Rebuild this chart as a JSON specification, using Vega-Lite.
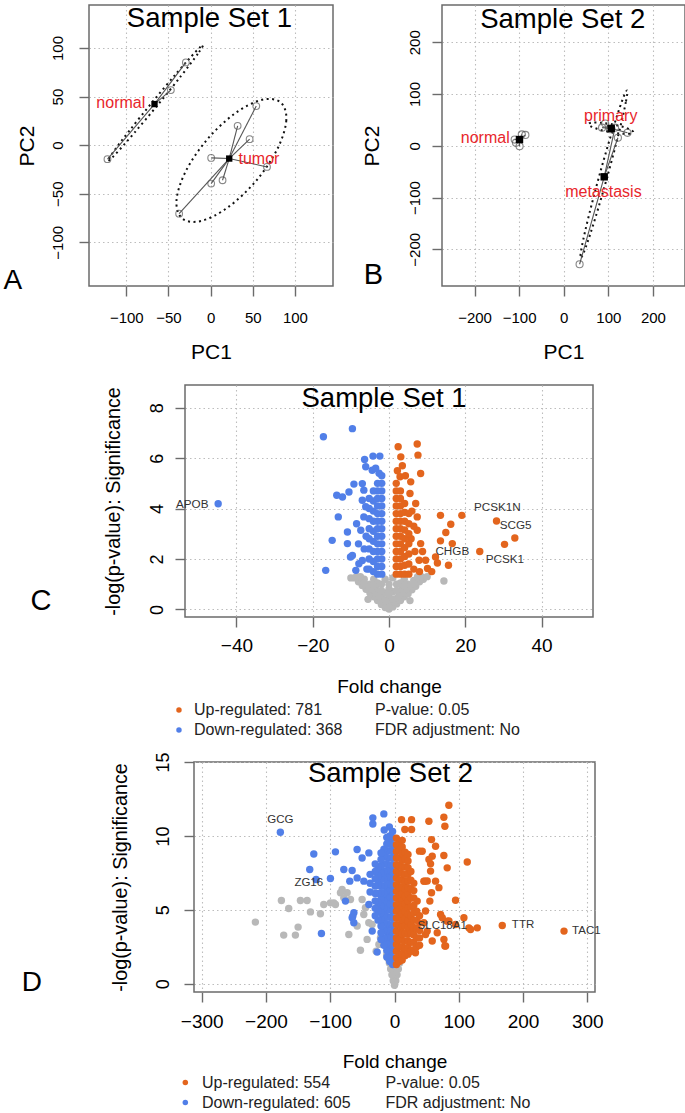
{
"$schema":"https://vega.github.io/schema/vega-lite/v6.json",
"background":"white",
"padding":{"left":2,"top":3,"right":0,"bottom":0},
"config":{
 "font":"Liberation Sans",
 "view":{"stroke":null},
 "axis":{"tickSize":10,"tickColor":"#6b6b6b","tickWidth":1.4,"domain":false,"grid":true,"gridColor":"#bdbdbd","gridDash":[1.5,3],"gridWidth":1.1,"labelColor":"#000","titleColor":"#000","titleFontWeight":"normal","labelOverlap":false,"labelFlush":false,"labelFont":"Liberation Sans","titleFont":"Liberation Sans"},
 "text":{"font":"Liberation Sans"}
},
"datasets":{
 "pcaA":[
  {"grp":"normal","x":-122.3,"y":-14.4,"cx":-66.5,"cy":42.3},
  {"grp":"normal","x":-47.1,"y":56.7,"cx":-66.5,"cy":42.3},
  {"grp":"normal","x":-29.3,"y":85.2,"cx":-66.5,"cy":42.3},
  {"grp":"tumor","x":54.2,"y":40.2,"cx":22.1,"cy":-13.8},
  {"grp":"tumor","x":32.1,"y":19.9,"cx":22.1,"cy":-13.8},
  {"grp":"tumor","x":46.3,"y":6.2,"cx":22.1,"cy":-13.8},
  {"grp":"tumor","x":0.7,"y":-13.1,"cx":22.1,"cy":-13.8},
  {"grp":"tumor","x":66.9,"y":-22.4,"cx":22.1,"cy":-13.8},
  {"grp":"tumor","x":0.7,"y":-39.6,"cx":22.1,"cy":-13.8},
  {"grp":"tumor","x":14.2,"y":-36.1,"cx":22.1,"cy":-13.8},
  {"grp":"tumor","x":-37.3,"y":-70.5,"cx":22.1,"cy":-13.8}
 ],
 "cenA":[{"x":-66.5,"y":42.3},{"x":22.1,"y":-13.8}],
 "labA":[{"x":-106.5,"y":43.6,"label":"normal"},{"x":57.4,"y":-14.1,"label":"tumor"}],
 "ellA":[
  {"grp":"normal","i":0,"x":-9,"y":103},{"grp":"normal","i":1,"x":-15.2,"y":94},{"grp":"normal","i":2,"x":-34.9,"y":71.4},{"grp":"normal","i":3,"x":-62.75,"y":41.3},{"grp":"normal","i":4,"x":-91.4,"y":11.7},{"grp":"normal","i":5,"x":-113.1,"y":-9.5},{"grp":"normal","i":6,"x":-122,"y":-16.5},{"grp":"normal","i":7,"x":-115.8,"y":-7.5},{"grp":"normal","i":8,"x":-96.1,"y":15.1},{"grp":"normal","i":9,"x":-68.25,"y":45.2},{"grp":"normal","i":10,"x":-39.6,"y":74.8},{"grp":"normal","i":11,"x":-17.9,"y":96},
  {"grp":"tumor","i":0,"x":83.1,"y":44},{"grp":"tumor","i":1,"x":89.8,"y":25.4},{"grp":"tumor","i":2,"x":79,"y":-4.3},{"grp":"tumor","i":3,"x":53.7,"y":-37},{"grp":"tumor","i":4,"x":20.6,"y":-64},{"grp":"tumor","i":5,"x":-11.4,"y":-78.1},{"grp":"tumor","i":6,"x":-33.7,"y":-75.4},{"grp":"tumor","i":7,"x":-40.4,"y":-56.8},{"grp":"tumor","i":8,"x":-29.6,"y":-27.1},{"grp":"tumor","i":9,"x":-4.3,"y":5.6},{"grp":"tumor","i":10,"x":28.8,"y":32.6},{"grp":"tumor","i":11,"x":60.8,"y":46.7}
 ],
 "pcaB":[
  {"grp":"normal","x":-110,"y":12,"cx":-99.2,"cy":12},
  {"grp":"normal","x":-99,"y":-1,"cx":-99.2,"cy":12},
  {"grp":"normal","x":-86,"y":21,"cx":-99.2,"cy":12},
  {"grp":"normal","x":-94,"y":22,"cx":-99.2,"cy":12},
  {"grp":"normal","x":-107,"y":6,"cx":-99.2,"cy":12},
  {"grp":"primary","x":86,"y":35,"cx":106.5,"cy":33.5},
  {"grp":"primary","x":93,"y":43,"cx":106.5,"cy":33.5},
  {"grp":"primary","x":143,"y":25,"cx":106.5,"cy":33.5},
  {"grp":"primary","x":104,"y":32,"cx":106.5,"cy":33.5},
  {"grp":"metastasis","x":35.6,"y":-229,"cx":90.8,"cy":-60},
  {"grp":"metastasis","x":121.5,"y":15.5,"cx":90.8,"cy":-60},
  {"grp":"metastasis","x":115,"y":35,"cx":90.8,"cy":-60}
 ],
 "cenB":[{"x":-99.2,"y":12},{"x":106.5,"y":33.5},{"x":90.8,"y":-60}],
 "labB":[{"x":-176,"y":14.1,"label":"normal"},{"x":105.4,"y":58,"label":"primary"},{"x":89,"y":-90,"label":"metastasis"}],
 "ellB":[
  {"grp":"primary","i":0,"x":156,"y":26},{"grp":"primary","i":1,"x":148.5,"y":23.3},{"grp":"primary","i":2,"x":129.6,"y":23.4},{"grp":"primary","i":3,"x":104.4,"y":26.4},{"grp":"primary","i":4,"x":79.6,"y":31.4},{"grp":"primary","i":5,"x":61.9,"y":37.1},{"grp":"primary","i":6,"x":56,"y":42},{"grp":"primary","i":7,"x":63.5,"y":44.7},{"grp":"primary","i":8,"x":82.4,"y":44.6},{"grp":"primary","i":9,"x":107.6,"y":41.6},{"grp":"primary","i":10,"x":132.4,"y":36.6},{"grp":"primary","i":11,"x":150.1,"y":30.9},
  {"grp":"metastasis","i":0,"x":142,"y":107},{"grp":"metastasis","i":1,"x":139.3,"y":84.3},{"grp":"metastasis","i":2,"x":123.5,"y":24.2},{"grp":"metastasis","i":3,"x":98.6,"y":-57.1},{"grp":"metastasis","i":4,"x":71.5,"y":-137.8},{"grp":"metastasis","i":5,"x":49.3,"y":-196.3},{"grp":"metastasis","i":6,"x":38,"y":-217},{"grp":"metastasis","i":7,"x":40.7,"y":-194.3},{"grp":"metastasis","i":8,"x":56.6,"y":-134.2},{"grp":"metastasis","i":9,"x":81.4,"y":-52.9},{"grp":"metastasis","i":10,"x":108.6,"y":27.8},{"grp":"metastasis","i":11,"x":130.7,"y":86.3}
 ],
 "genC":[{"x":-51.6,"y":4.2,"label":"APOB"},{"x":28.4,"y":4.07,"label":"PCSK1N"},{"x":33.2,"y":3.34,"label":"SCG5"},{"x":16.6,"y":2.32,"label":"CHGB"},{"x":30.4,"y":2.01,"label":"PCSK1"}],
 "genD":[{"x":-177.6,"y":11.1,"label":"GCG"},{"x":-133.4,"y":6.82,"label":"ZG16"},{"x":74.2,"y":3.9,"label":"SLC18A1"},{"x":200,"y":4.0,"label":"TTR"},{"x":298.5,"y":3.6,"label":"TAC1"}],
 "volC":[
  {"x":0,"y":0.02,"g":"n"},{"x":-1,"y":0.08,"g":"n"},{"x":1,"y":0.1,"g":"n"},{"x":-2,"y":0.2,"g":"n"},{"x":2,"y":0.22,"g":"n"},{"x":0,"y":0.25,"g":"n"},{"x":-3,"y":0.35,"g":"n"},{"x":3,"y":0.35,"g":"n"},{"x":-1.5,"y":0.4,"g":"n"},{"x":1.5,"y":0.42,"g":"n"},{"x":-4,"y":0.5,"g":"n"},{"x":4,"y":0.5,"g":"n"},{"x":0,"y":0.5,"g":"n"},{"x":-5,"y":0.65,"g":"n"},{"x":5,"y":0.62,"g":"n"},{"x":-2.5,"y":0.65,"g":"n"},{"x":2.5,"y":0.7,"g":"n"},{"x":-6,"y":0.8,"g":"n"},{"x":6,"y":0.78,"g":"n"},{"x":-3.5,"y":0.85,"g":"n"},{"x":3.5,"y":0.85,"g":"n"},{"x":0,"y":0.8,"g":"n"},{"x":-7,"y":0.95,"g":"n"},{"x":7,"y":0.92,"g":"n"},{"x":-5,"y":1.0,"g":"n"},{"x":5,"y":1.0,"g":"n"},{"x":-8,"y":1.1,"g":"n"},{"x":8,"y":1.1,"g":"n"},{"x":-6.5,"y":1.2,"g":"n"},{"x":6.5,"y":1.15,"g":"n"},{"x":-7.5,"y":1.3,"g":"n"},{"x":7.5,"y":1.3,"g":"n"},{"x":-4,"y":1.2,"g":"n"},{"x":4,"y":1.2,"g":"n"},{"x":-9,"y":1.25,"g":"n"},{"x":9,"y":1.2,"g":"n"},{"x":14.4,"y":1.13,"g":"n"},{"x":-2,"y":1.0,"g":"n"},{"x":2,"y":1.0,"g":"n"},{"x":-1,"y":0.65,"g":"n"},{"x":1,"y":0.7,"g":"n"},{"x":-1,"y":1.2,"g":"n"},{"x":1,"y":1.25,"g":"n"},{"x":-5.5,"y":0.4,"g":"n"},{"x":5.5,"y":0.35,"g":"n"},{"x":-3,"y":1.05,"g":"n"},{"x":3,"y":1.05,"g":"n"},
  {"x":-0.5,"y":0.15,"g":"n"},{"x":0.5,"y":0.15,"g":"n"},{"x":-1.5,"y":0.3,"g":"n"},{"x":1.5,"y":0.3,"g":"n"},{"x":-2.5,"y":0.5,"g":"n"},{"x":2.5,"y":0.5,"g":"n"},{"x":-3.5,"y":0.65,"g":"n"},{"x":3.5,"y":0.65,"g":"n"},{"x":-4.5,"y":0.8,"g":"n"},{"x":4.5,"y":0.8,"g":"n"},{"x":-5.5,"y":0.95,"g":"n"},{"x":5.5,"y":0.95,"g":"n"},{"x":-6.5,"y":1.05,"g":"n"},{"x":6.5,"y":1.0,"g":"n"},{"x":-2,"y":0.75,"g":"n"},{"x":2,"y":0.75,"g":"n"},{"x":0,"y":1.0,"g":"n"},{"x":-4,"y":0.95,"g":"n"},{"x":4,"y":0.95,"g":"n"},{"x":-8.5,"y":1.3,"g":"n"},{"x":8.5,"y":1.3,"g":"n"},{"x":-10,"y":1.25,"g":"n"},{"x":10,"y":1.3,"g":"n"},{"x":-1,"y":0.35,"g":"n"},{"x":1,"y":0.4,"g":"n"},{"x":0,"y":0.65,"g":"n"},
  {"x":-44.8,"y":4.19,"g":"d"},{"x":-17.2,"y":6.85,"g":"d"},{"x":-9.6,"y":7.17,"g":"d"},{"x":-6.4,"y":5.95,"g":"d"},{"x":-4.2,"y":6.08,"g":"d"},{"x":-2.4,"y":6.08,"g":"d"},{"x":-6.1,"y":5.66,"g":"d"},{"x":-4.4,"y":5.52,"g":"d"},{"x":-9.2,"y":4.97,"g":"d"},{"x":-10.5,"y":4.66,"g":"d"},{"x":-13.7,"y":4.53,"g":"d"},{"x":-12.2,"y":4.46,"g":"d"},{"x":-13.3,"y":3.67,"g":"d"},{"x":-14.9,"y":2.74,"g":"d"},{"x":-16.6,"y":1.55,"g":"d"},{"x":-10.9,"y":3.07,"g":"d"},{"x":-10.9,"y":2.61,"g":"d"},{"x":-10.1,"y":2.08,"g":"d"},{"x":-9.6,"y":2.14,"g":"d"},{"x":-7.4,"y":3.14,"g":"d"},{"x":-7.0,"y":1.94,"g":"d"},{"x":-8.7,"y":1.55,"g":"d"},{"x":-7.9,"y":1.81,"g":"d"},{"x":-7.0,"y":4.99,"g":"d"},{"x":-6.6,"y":4.73,"g":"d"},{"x":-7.0,"y":4.33,"g":"d"},{"x":-6.1,"y":4.07,"g":"d"},{"x":-6.6,"y":3.67,"g":"d"},{"x":-8.5,"y":3.4,"g":"d"},{"x":-6.0,"y":2.9,"g":"d"},{"x":-6.5,"y":2.4,"g":"d"},{"x":-5.8,"y":1.6,"g":"d"},{"x":-8.0,"y":2.6,"g":"d"},{"x":-2.6,"y":5.4,"g":"d"},{"x":-3.5,"y":5.6,"g":"d"},
  {"x":-1.9,"y":1.4,"g":"d"},{"x":-1.9,"y":1.7,"g":"d"},{"x":-1.9,"y":2.0,"g":"d"},{"x":-1.9,"y":2.3,"g":"d"},{"x":-1.9,"y":2.6,"g":"d"},{"x":-1.9,"y":2.9,"g":"d"},{"x":-1.9,"y":3.2,"g":"d"},{"x":-1.9,"y":3.5,"g":"d"},{"x":-1.9,"y":3.8,"g":"d"},{"x":-1.9,"y":4.1,"g":"d"},{"x":-1.9,"y":4.4,"g":"d"},{"x":-1.9,"y":4.7,"g":"d"},{"x":-1.9,"y":5.0,"g":"d"},{"x":-1.9,"y":5.3,"g":"d"},
  {"x":-3.0,"y":1.4,"g":"d"},{"x":-3.0,"y":1.7,"g":"d"},{"x":-3.0,"y":2.0,"g":"d"},{"x":-3.0,"y":2.3,"g":"d"},{"x":-3.0,"y":2.6,"g":"d"},{"x":-3.0,"y":2.9,"g":"d"},{"x":-3.0,"y":3.2,"g":"d"},{"x":-3.0,"y":3.5,"g":"d"},{"x":-3.0,"y":3.8,"g":"d"},{"x":-3.0,"y":4.1,"g":"d"},{"x":-3.0,"y":4.4,"g":"d"},{"x":-3.0,"y":4.7,"g":"d"},{"x":-3.0,"y":5.0,"g":"d"},
  {"x":-4.1,"y":1.5,"g":"d"},{"x":-4.1,"y":1.9,"g":"d"},{"x":-4.1,"y":2.3,"g":"d"},{"x":-4.1,"y":2.7,"g":"d"},{"x":-4.1,"y":3.1,"g":"d"},{"x":-4.1,"y":3.5,"g":"d"},{"x":-4.1,"y":3.9,"g":"d"},{"x":-4.1,"y":4.3,"g":"d"},{"x":-4.1,"y":4.7,"g":"d"},
  {"x":-5.2,"y":1.6,"g":"d"},{"x":-5.2,"y":2.0,"g":"d"},{"x":-5.2,"y":2.4,"g":"d"},{"x":-5.2,"y":2.8,"g":"d"},{"x":-5.2,"y":3.2,"g":"d"},{"x":-5.2,"y":3.6,"g":"d"},{"x":-5.2,"y":4.0,"g":"d"},{"x":-5.2,"y":4.4,"g":"d"},
  {"x":2.4,"y":6.45,"g":"u"},{"x":7.4,"y":6.56,"g":"u"},{"x":7.6,"y":6.12,"g":"u"},{"x":3.1,"y":6.05,"g":"u"},{"x":2.9,"y":5.26,"g":"u"},{"x":5.7,"y":5.06,"g":"u"},{"x":8.3,"y":5.39,"g":"u"},{"x":7.4,"y":3.67,"g":"u"},{"x":7.0,"y":4.2,"g":"u"},{"x":7.4,"y":3.14,"g":"u"},{"x":8.3,"y":2.61,"g":"u"},{"x":7.9,"y":1.95,"g":"u"},{"x":9.6,"y":1.95,"g":"u"},{"x":10.1,"y":1.62,"g":"u"},{"x":13.5,"y":3.73,"g":"u"},{"x":19.1,"y":3.73,"g":"u"},{"x":16.2,"y":3.38,"g":"u"},{"x":14.9,"y":3.05,"g":"u"},{"x":13.5,"y":2.72,"g":"u"},{"x":16.6,"y":2.61,"g":"u"},{"x":12.2,"y":2.08,"g":"u"},{"x":12.7,"y":1.84,"g":"u"},{"x":15.6,"y":1.75,"g":"u"},{"x":28.2,"y":3.51,"g":"u"},{"x":33.0,"y":2.83,"g":"u"},{"x":30.3,"y":2.58,"g":"u"},{"x":23.8,"y":2.30,"g":"u"},{"x":5.5,"y":4.6,"g":"u"},{"x":6.0,"y":3.9,"g":"u"},{"x":6.5,"y":3.3,"g":"u"},{"x":5.8,"y":2.8,"g":"u"},{"x":6.8,"y":2.3,"g":"u"},{"x":8.8,"y":2.3,"g":"u"},{"x":6.5,"y":1.6,"g":"u"},{"x":8.0,"y":1.5,"g":"u"},{"x":11.2,"y":1.5,"g":"u"},{"x":2.2,"y":5.5,"g":"u"},{"x":3.5,"y":5.7,"g":"u"},{"x":4.3,"y":5.3,"g":"u"},
  {"x":1.9,"y":1.4,"g":"u"},{"x":1.9,"y":1.7,"g":"u"},{"x":1.9,"y":2.0,"g":"u"},{"x":1.9,"y":2.3,"g":"u"},{"x":1.9,"y":2.6,"g":"u"},{"x":1.9,"y":2.9,"g":"u"},{"x":1.9,"y":3.2,"g":"u"},{"x":1.9,"y":3.5,"g":"u"},{"x":1.9,"y":3.8,"g":"u"},{"x":1.9,"y":4.1,"g":"u"},{"x":1.9,"y":4.4,"g":"u"},{"x":1.9,"y":4.7,"g":"u"},{"x":1.9,"y":5.0,"g":"u"},
  {"x":3.0,"y":1.4,"g":"u"},{"x":3.0,"y":1.7,"g":"u"},{"x":3.0,"y":2.0,"g":"u"},{"x":3.0,"y":2.3,"g":"u"},{"x":3.0,"y":2.6,"g":"u"},{"x":3.0,"y":2.9,"g":"u"},{"x":3.0,"y":3.2,"g":"u"},{"x":3.0,"y":3.5,"g":"u"},{"x":3.0,"y":3.8,"g":"u"},{"x":3.0,"y":4.1,"g":"u"},{"x":3.0,"y":4.4,"g":"u"},{"x":3.0,"y":4.7,"g":"u"},
  {"x":4.1,"y":1.4,"g":"u"},{"x":4.1,"y":1.75,"g":"u"},{"x":4.1,"y":2.1,"g":"u"},{"x":4.1,"y":2.45,"g":"u"},{"x":4.1,"y":2.8,"g":"u"},{"x":4.1,"y":3.15,"g":"u"},{"x":4.1,"y":3.5,"g":"u"},{"x":4.1,"y":3.85,"g":"u"},{"x":4.1,"y":4.2,"g":"u"},
  {"x":5.2,"y":1.4,"g":"u"},{"x":5.2,"y":1.8,"g":"u"},{"x":5.2,"y":2.2,"g":"u"},{"x":5.2,"y":2.6,"g":"u"},{"x":5.2,"y":3.0,"g":"u"},{"x":5.2,"y":3.4,"g":"u"},{"x":5.2,"y":3.8,"g":"u"}
 ],
 "volD":[
  {"x":0,"y":-0.1,"g":"n"},{"x":-2,"y":0.2,"g":"n"},{"x":2,"y":0.2,"g":"n"},{"x":0,"y":0.4,"g":"n"},{"x":-4,"y":0.6,"g":"n"},{"x":4,"y":0.6,"g":"n"},{"x":-1,"y":0.8,"g":"n"},{"x":1,"y":0.8,"g":"n"},{"x":-6,"y":1.0,"g":"n"},{"x":6,"y":1.0,"g":"n"},{"x":-3,"y":1.2,"g":"n"},{"x":3,"y":1.2,"g":"n"},{"x":-8,"y":1.4,"g":"n"},{"x":8,"y":1.4,"g":"n"},{"x":-10,"y":1.7,"g":"n"},{"x":10,"y":1.7,"g":"n"},{"x":0,"y":1.2,"g":"n"},{"x":-12,"y":2.0,"g":"n"},{"x":12,"y":2.0,"g":"n"},
  {"x":-216.5,"y":4.17,"g":"n"},{"x":-176,"y":5.63,"g":"n"},{"x":-164.6,"y":5.09,"g":"n"},{"x":-172.4,"y":3.29,"g":"n"},{"x":-154.2,"y":3.29,"g":"n"},{"x":-150,"y":3.83,"g":"n"},{"x":-146.4,"y":5.63,"g":"n"},{"x":-136,"y":5.63,"g":"n"},{"x":-130.8,"y":4.86,"g":"n"},{"x":-115.3,"y":4.73,"g":"n"},{"x":-110.1,"y":5.36,"g":"n"},{"x":-99.7,"y":5.47,"g":"n"},{"x":-91.9,"y":5.36,"g":"n"},{"x":-84.1,"y":6.15,"g":"n"},{"x":-73.7,"y":6.15,"g":"n"},{"x":-78.9,"y":5.81,"g":"n"},{"x":-50.4,"y":5.7,"g":"n"},{"x":-45.2,"y":5.14,"g":"n"},{"x":-47.8,"y":4.68,"g":"n"},{"x":-34.8,"y":4.01,"g":"n"},{"x":-40,"y":4.12,"g":"n"},{"x":-71.1,"y":3.33,"g":"n"},{"x":-53,"y":2.27,"g":"n"},{"x":-42.6,"y":3.0,"g":"n"},{"x":-81.5,"y":6.38,"g":"n"},{"x":-68.5,"y":5.7,"g":"n"},{"x":-58.1,"y":3.9,"g":"n"},{"x":-24.3,"y":2.66,"g":"n"},{"x":-21.8,"y":3.11,"g":"n"},{"x":-28.5,"y":2.2,"g":"n"},{"x":-94.4,"y":5.47,"g":"n"},
  {"x":-177.6,"y":10.25,"g":"d"},{"x":-125.6,"y":8.78,"g":"d"},{"x":-91.9,"y":8.92,"g":"d"},{"x":-131.9,"y":7.73,"g":"d"},{"x":-99.7,"y":7.12,"g":"d"},{"x":-122,"y":7.05,"g":"d"},{"x":-113.7,"y":3.4,"g":"d"},{"x":-76.3,"y":5.59,"g":"d"},{"x":-64.9,"y":4.57,"g":"d"},{"x":-63.3,"y":4.12,"g":"d"},{"x":-78.9,"y":7.73,"g":"d"},{"x":-65.9,"y":7.66,"g":"d"},{"x":-69.6,"y":6.94,"g":"d"},{"x":-58.2,"y":9.08,"g":"d"},{"x":-50.4,"y":8.51,"g":"d"},{"x":-33.7,"y":11.22,"g":"d"},{"x":-33.7,"y":10.81,"g":"d"},{"x":-16.6,"y":11.49,"g":"d"},{"x":-27,"y":2.14,"g":"d"},{"x":-39.9,"y":8.85,"g":"d"},{"x":-58.1,"y":7.16,"g":"d"},{"x":-47.7,"y":6.94,"g":"d"},{"x":-63.2,"y":4.8,"g":"d"},{"x":-65.9,"y":4.46,"g":"d"},{"x":-34.7,"y":3.56,"g":"d"},{"x":-39.9,"y":5.36,"g":"d"},{"x":-8,"y":10.6,"g":"d"},{"x":-16,"y":10.4,"g":"d"},
  {"x":-3,"y":1.3,"g":"d"},{"x":-3,"y":1.75,"g":"d"},{"x":-3,"y":2.2,"g":"d"},{"x":-3,"y":2.65,"g":"d"},{"x":-3,"y":3.1,"g":"d"},{"x":-3,"y":3.55,"g":"d"},{"x":-3,"y":4.0,"g":"d"},{"x":-3,"y":4.45,"g":"d"},{"x":-3,"y":4.9,"g":"d"},{"x":-3,"y":5.35,"g":"d"},{"x":-3,"y":5.8,"g":"d"},{"x":-3,"y":6.25,"g":"d"},{"x":-3,"y":6.7,"g":"d"},{"x":-3,"y":7.15,"g":"d"},{"x":-3,"y":7.6,"g":"d"},{"x":-3,"y":8.05,"g":"d"},{"x":-3,"y":8.5,"g":"d"},{"x":-3,"y":8.95,"g":"d"},{"x":-3,"y":9.4,"g":"d"},{"x":-3,"y":9.85,"g":"d"},{"x":-3,"y":10.3,"g":"d"},
  {"x":-7.5,"y":1.5,"g":"d"},{"x":-7.5,"y":2.0,"g":"d"},{"x":-7.5,"y":2.5,"g":"d"},{"x":-7.5,"y":3.0,"g":"d"},{"x":-7.5,"y":3.5,"g":"d"},{"x":-7.5,"y":4.0,"g":"d"},{"x":-7.5,"y":4.5,"g":"d"},{"x":-7.5,"y":5.0,"g":"d"},{"x":-7.5,"y":5.5,"g":"d"},{"x":-7.5,"y":6.0,"g":"d"},{"x":-7.5,"y":6.5,"g":"d"},{"x":-7.5,"y":7.0,"g":"d"},{"x":-7.5,"y":7.5,"g":"d"},{"x":-7.5,"y":8.0,"g":"d"},{"x":-7.5,"y":8.5,"g":"d"},{"x":-7.5,"y":9.0,"g":"d"},{"x":-7.5,"y":9.5,"g":"d"},{"x":-7.5,"y":10.0,"g":"d"},
  {"x":-12,"y":1.8,"g":"d"},{"x":-12,"y":2.25,"g":"d"},{"x":-12,"y":2.7,"g":"d"},{"x":-12,"y":3.15,"g":"d"},{"x":-12,"y":3.6,"g":"d"},{"x":-12,"y":4.05,"g":"d"},{"x":-12,"y":4.5,"g":"d"},{"x":-12,"y":4.95,"g":"d"},{"x":-12,"y":5.4,"g":"d"},{"x":-12,"y":5.85,"g":"d"},{"x":-12,"y":6.3,"g":"d"},{"x":-12,"y":6.75,"g":"d"},{"x":-12,"y":7.2,"g":"d"},{"x":-12,"y":7.65,"g":"d"},{"x":-12,"y":8.1,"g":"d"},{"x":-12,"y":8.55,"g":"d"},{"x":-12,"y":9.0,"g":"d"},{"x":-12,"y":9.45,"g":"d"},{"x":-12,"y":9.9,"g":"d"},
  {"x":-16.5,"y":2.6,"g":"d"},{"x":-16.5,"y":3.1,"g":"d"},{"x":-16.5,"y":3.6,"g":"d"},{"x":-16.5,"y":4.1,"g":"d"},{"x":-16.5,"y":4.6,"g":"d"},{"x":-16.5,"y":5.1,"g":"d"},{"x":-16.5,"y":5.6,"g":"d"},{"x":-16.5,"y":6.1,"g":"d"},{"x":-16.5,"y":6.6,"g":"d"},{"x":-16.5,"y":7.1,"g":"d"},{"x":-16.5,"y":7.6,"g":"d"},{"x":-16.5,"y":8.1,"g":"d"},{"x":-16.5,"y":8.6,"g":"d"},{"x":-16.5,"y":9.1,"g":"d"},
  {"x":-21,"y":3.0,"g":"d"},{"x":-21,"y":3.45,"g":"d"},{"x":-21,"y":3.9,"g":"d"},{"x":-21,"y":4.35,"g":"d"},{"x":-21,"y":4.8,"g":"d"},{"x":-21,"y":5.25,"g":"d"},{"x":-21,"y":5.7,"g":"d"},{"x":-21,"y":6.15,"g":"d"},{"x":-21,"y":6.6,"g":"d"},{"x":-21,"y":7.05,"g":"d"},{"x":-21,"y":7.5,"g":"d"},{"x":-21,"y":7.95,"g":"d"},{"x":-21,"y":8.4,"g":"d"},{"x":-21,"y":8.85,"g":"d"},
  {"x":-25.5,"y":4.3,"g":"d"},{"x":-25.5,"y":4.9,"g":"d"},{"x":-25.5,"y":5.5,"g":"d"},{"x":-25.5,"y":6.1,"g":"d"},{"x":-25.5,"y":6.7,"g":"d"},{"x":-25.5,"y":7.3,"g":"d"},{"x":-25.5,"y":7.9,"g":"d"},
  {"x":-30,"y":4.6,"g":"d"},{"x":-30,"y":5.1,"g":"d"},{"x":-30,"y":5.6,"g":"d"},{"x":-30,"y":6.1,"g":"d"},{"x":-30,"y":6.6,"g":"d"},{"x":-30,"y":7.1,"g":"d"},{"x":-30,"y":7.6,"g":"d"},{"x":-30,"y":8.1,"g":"d"},
  {"x":-38,"y":6.2,"g":"d"},{"x":-38,"y":6.8,"g":"d"},{"x":-38,"y":7.4,"g":"d"},
  {"x":84.6,"y":12.07,"g":"u"},{"x":10.9,"y":11.1,"g":"u"},{"x":26.5,"y":11.1,"g":"u"},{"x":53.5,"y":10.99,"g":"u"},{"x":76.8,"y":11.26,"g":"u"},{"x":78.4,"y":10.65,"g":"u"},{"x":16.1,"y":10.43,"g":"u"},{"x":26.5,"y":10.43,"g":"u"},{"x":57.6,"y":9.75,"g":"u"},{"x":63.9,"y":9.3,"g":"u"},{"x":43.1,"y":8.96,"g":"u"},{"x":58.7,"y":8.63,"g":"u"},{"x":76.8,"y":8.67,"g":"u"},{"x":113.2,"y":8.24,"g":"u"},{"x":82,"y":7.84,"g":"u"},{"x":56.1,"y":8.11,"g":"u"},{"x":47.2,"y":6.94,"g":"u"},{"x":63.9,"y":6.94,"g":"u"},{"x":57.6,"y":6.15,"g":"u"},{"x":55,"y":5.59,"g":"u"},{"x":95,"y":5.65,"g":"u"},{"x":71.7,"y":4.68,"g":"u"},{"x":82,"y":4.23,"g":"u"},{"x":95,"y":4.01,"g":"u"},{"x":108,"y":4.46,"g":"u"},{"x":115.8,"y":3.78,"g":"u"},{"x":128.8,"y":3.78,"g":"u"},{"x":118.4,"y":3.67,"g":"u"},{"x":167.7,"y":3.94,"g":"u"},{"x":263.8,"y":3.56,"g":"u"},{"x":78.4,"y":2.55,"g":"u"},{"x":48.3,"y":3.33,"g":"u"},{"x":38.9,"y":8.97,"g":"u"},{"x":53.6,"y":8.4,"g":"u"},{"x":56.1,"y":7.62,"g":"u"},{"x":50.9,"y":6.95,"g":"u"},{"x":69.1,"y":6.5,"g":"u"},{"x":48.3,"y":4.92,"g":"u"},{"x":74.3,"y":4.46,"g":"u"},{"x":84.7,"y":4.24,"g":"u"},{"x":45.7,"y":4.12,"g":"u"},{"x":50.9,"y":3.56,"g":"u"},{"x":66.5,"y":3.45,"g":"u"},{"x":76.9,"y":3.0,"g":"u"},{"x":58.7,"y":2.89,"g":"u"},{"x":79.5,"y":2.55,"g":"u"},{"x":32.6,"y":2.1,"g":"u"},{"x":35.3,"y":5.59,"g":"u"},{"x":45.7,"y":6.94,"g":"u"},
  {"x":3,"y":1.3,"g":"u"},{"x":3,"y":1.75,"g":"u"},{"x":3,"y":2.2,"g":"u"},{"x":3,"y":2.65,"g":"u"},{"x":3,"y":3.1,"g":"u"},{"x":3,"y":3.55,"g":"u"},{"x":3,"y":4.0,"g":"u"},{"x":3,"y":4.45,"g":"u"},{"x":3,"y":4.9,"g":"u"},{"x":3,"y":5.35,"g":"u"},{"x":3,"y":5.8,"g":"u"},{"x":3,"y":6.25,"g":"u"},{"x":3,"y":6.7,"g":"u"},{"x":3,"y":7.15,"g":"u"},{"x":3,"y":7.6,"g":"u"},{"x":3,"y":8.05,"g":"u"},{"x":3,"y":8.5,"g":"u"},{"x":3,"y":8.95,"g":"u"},{"x":3,"y":9.4,"g":"u"},{"x":3,"y":9.85,"g":"u"},
  {"x":7.5,"y":1.5,"g":"u"},{"x":7.5,"y":2.0,"g":"u"},{"x":7.5,"y":2.5,"g":"u"},{"x":7.5,"y":3.0,"g":"u"},{"x":7.5,"y":3.5,"g":"u"},{"x":7.5,"y":4.0,"g":"u"},{"x":7.5,"y":4.5,"g":"u"},{"x":7.5,"y":5.0,"g":"u"},{"x":7.5,"y":5.5,"g":"u"},{"x":7.5,"y":6.0,"g":"u"},{"x":7.5,"y":6.5,"g":"u"},{"x":7.5,"y":7.0,"g":"u"},{"x":7.5,"y":7.5,"g":"u"},{"x":7.5,"y":8.0,"g":"u"},{"x":7.5,"y":8.5,"g":"u"},{"x":7.5,"y":9.0,"g":"u"},{"x":7.5,"y":9.5,"g":"u"},
  {"x":12,"y":1.6,"g":"u"},{"x":12,"y":2.05,"g":"u"},{"x":12,"y":2.5,"g":"u"},{"x":12,"y":2.95,"g":"u"},{"x":12,"y":3.4,"g":"u"},{"x":12,"y":3.85,"g":"u"},{"x":12,"y":4.3,"g":"u"},{"x":12,"y":4.75,"g":"u"},{"x":12,"y":5.2,"g":"u"},{"x":12,"y":5.65,"g":"u"},{"x":12,"y":6.1,"g":"u"},{"x":12,"y":6.55,"g":"u"},{"x":12,"y":7.0,"g":"u"},{"x":12,"y":7.45,"g":"u"},{"x":12,"y":7.9,"g":"u"},{"x":12,"y":8.35,"g":"u"},{"x":12,"y":8.8,"g":"u"},{"x":12,"y":9.25,"g":"u"},{"x":12,"y":9.7,"g":"u"},
  {"x":16.5,"y":1.9,"g":"u"},{"x":16.5,"y":2.4,"g":"u"},{"x":16.5,"y":2.9,"g":"u"},{"x":16.5,"y":3.4,"g":"u"},{"x":16.5,"y":3.9,"g":"u"},{"x":16.5,"y":4.4,"g":"u"},{"x":16.5,"y":4.9,"g":"u"},{"x":16.5,"y":5.4,"g":"u"},{"x":16.5,"y":5.9,"g":"u"},{"x":16.5,"y":6.4,"g":"u"},{"x":16.5,"y":6.9,"g":"u"},{"x":16.5,"y":7.4,"g":"u"},{"x":16.5,"y":7.9,"g":"u"},{"x":16.5,"y":8.4,"g":"u"},{"x":16.5,"y":8.9,"g":"u"},
  {"x":21,"y":2.0,"g":"u"},{"x":21,"y":2.45,"g":"u"},{"x":21,"y":2.9,"g":"u"},{"x":21,"y":3.35,"g":"u"},{"x":21,"y":3.8,"g":"u"},{"x":21,"y":4.25,"g":"u"},{"x":21,"y":4.7,"g":"u"},{"x":21,"y":5.15,"g":"u"},{"x":21,"y":5.6,"g":"u"},{"x":21,"y":6.05,"g":"u"},{"x":21,"y":6.5,"g":"u"},{"x":21,"y":6.95,"g":"u"},{"x":21,"y":7.4,"g":"u"},{"x":21,"y":7.85,"g":"u"},{"x":21,"y":8.3,"g":"u"},{"x":21,"y":8.75,"g":"u"},
  {"x":25.5,"y":2.2,"g":"u"},{"x":25.5,"y":2.8,"g":"u"},{"x":25.5,"y":3.4,"g":"u"},{"x":25.5,"y":4.0,"g":"u"},{"x":25.5,"y":4.6,"g":"u"},{"x":25.5,"y":5.2,"g":"u"},{"x":25.5,"y":5.8,"g":"u"},{"x":25.5,"y":6.4,"g":"u"},{"x":25.5,"y":7.0,"g":"u"},{"x":25.5,"y":7.6,"g":"u"},
  {"x":30,"y":2.3,"g":"u"},{"x":30,"y":2.8,"g":"u"},{"x":30,"y":3.3,"g":"u"},{"x":30,"y":3.8,"g":"u"},{"x":30,"y":4.3,"g":"u"},{"x":30,"y":4.8,"g":"u"},{"x":30,"y":5.3,"g":"u"},{"x":30,"y":5.8,"g":"u"},{"x":30,"y":6.3,"g":"u"},{"x":30,"y":6.8,"g":"u"},
  {"x":34.5,"y":2.5,"g":"u"},{"x":34.5,"y":3.1,"g":"u"},{"x":34.5,"y":3.7,"g":"u"},{"x":34.5,"y":4.3,"g":"u"},{"x":34.5,"y":4.9,"g":"u"},
  {"x":39,"y":2.6,"g":"u"},{"x":39,"y":3.1,"g":"u"},{"x":39,"y":3.6,"g":"u"},{"x":39,"y":4.1,"g":"u"},{"x":39,"y":4.6,"g":"u"}
 ]
},
"spacing":0,
"vconcat":[
 {"spacing":109,"bounds":"flush","hconcat":[
  {"width":244,"height":281,"view":{"stroke":"#6b6b6b","strokeWidth":1.5},
   "layer":[
    {"data":{"name":"ellA"},"mark":{"type":"line","interpolate":"cardinal-closed","color":"#111","strokeWidth":2,"strokeDash":[2,3.5]},
     "encoding":{
      "x":{"field":"x","type":"quantitative","scale":{"domain":[-144.2,145.2],"nice":false,"zero":false},"axis":{"values":[-100,-50,0,50,100],"title":"PC1","labelFontSize":15,"labelPadding":26,"labelBaseline":"alphabetic","titleFontSize":21,"titleY":72.7,"titleBaseline":"alphabetic"}},
      "y":{"field":"y","type":"quantitative","scale":{"domain":[-145,144.3],"nice":false,"zero":false},"axis":{"values":[-100,-50,0,50,100],"title":"PC2","labelFontSize":15,"labelAngle":-90,"labelAlign":"center","labelBaseline":"alphabetic","labelPadding":16.5,"titleFontSize":21,"titleAngle":-90,"titleX":-55.3,"titleY":140.5,"titleBaseline":"alphabetic","titleAlign":"center"}},
      "detail":{"field":"grp"},"order":{"field":"i","type":"quantitative"}}},
    {"data":{"name":"pcaA"},"mark":{"type":"rule","color":"#555","strokeWidth":1.1},
     "encoding":{"x":{"field":"x","type":"quantitative","scale":{"domain":[-144.2,145.2],"nice":false,"zero":false}},"y":{"field":"y","type":"quantitative","scale":{"domain":[-145,144.3],"nice":false,"zero":false}},"x2":{"field":"cx"},"y2":{"field":"cy"}}},
    {"data":{"name":"pcaA"},"mark":{"type":"point","shape":"circle","filled":false,"color":"#555","size":45,"strokeWidth":1.1},
     "encoding":{"x":{"field":"x","type":"quantitative","scale":{"domain":[-144.2,145.2],"nice":false,"zero":false}},"y":{"field":"y","type":"quantitative","scale":{"domain":[-145,144.3],"nice":false,"zero":false}}}},
    {"data":{"name":"cenA"},"mark":{"type":"square","color":"#000","size":40,"opacity":1},
     "encoding":{"x":{"field":"x","type":"quantitative","scale":{"domain":[-144.2,145.2],"nice":false,"zero":false}},"y":{"field":"y","type":"quantitative","scale":{"domain":[-145,144.3],"nice":false,"zero":false}}}},
    {"data":{"name":"labA"},"mark":{"type":"text","color":"#e8262b","fontSize":16,"align":"center","baseline":"middle"},
     "encoding":{"x":{"field":"x","type":"quantitative","scale":{"domain":[-144.2,145.2],"nice":false,"zero":false}},"y":{"field":"y","type":"quantitative","scale":{"domain":[-145,144.3],"nice":false,"zero":false}},"text":{"field":"label"}}},
    {"data":{"values":[{}]},"mark":{"type":"text","text":"Sample Set 1","fontSize":27.5,"align":"center","baseline":"alphabetic","color":"#000"},
     "encoding":{"x":{"datum":-1.4,"type":"quantitative","scale":{"domain":[-144.2,145.2],"nice":false,"zero":false}},"y":{"datum":122,"type":"quantitative","scale":{"domain":[-145,144.3],"nice":false,"zero":false}}}},
    {"data":{"values":[{}]},"mark":{"type":"text","text":"A","fontSize":28,"align":"left","baseline":"alphabetic","color":"#000"},
     "encoding":{"x":{"datum":-245.5,"type":"quantitative","scale":{"domain":[-144.2,145.2],"nice":false,"zero":false}},"y":{"datum":-148.1,"type":"quantitative","scale":{"domain":[-145,144.3],"nice":false,"zero":false}}}}
   ]
  },
  {"width":243,"height":281,"view":{"stroke":"#6b6b6b","strokeWidth":1.5},
   "layer":[
    {"data":{"name":"ellB"},"mark":{"type":"line","interpolate":"cardinal-closed","color":"#111","strokeWidth":2,"strokeDash":[2,3.5]},
     "encoding":{
      "x":{"field":"x","type":"quantitative","scale":{"domain":[-273,272],"nice":false,"zero":false},"axis":{"values":[-200,-100,0,100,200],"title":"PC1","labelFontSize":15,"labelPadding":26,"labelBaseline":"alphabetic","titleFontSize":21,"titleY":72.7,"titleBaseline":"alphabetic"}},
      "y":{"field":"y","type":"quantitative","scale":{"domain":[-271,272],"nice":false,"zero":false},"axis":{"values":[-200,-100,0,100,200],"title":"PC2","labelFontSize":15,"labelAngle":-90,"labelAlign":"center","labelBaseline":"alphabetic","labelPadding":13,"titleFontSize":21,"titleAngle":-90,"titleX":-63.3,"titleY":140.5,"titleBaseline":"alphabetic","titleAlign":"center"}},
      "detail":{"field":"grp"},"order":{"field":"i","type":"quantitative"}}},
    {"data":{"name":"pcaB"},"mark":{"type":"rule","color":"#555","strokeWidth":1.1},
     "encoding":{"x":{"field":"x","type":"quantitative","scale":{"domain":[-273,272],"nice":false,"zero":false}},"y":{"field":"y","type":"quantitative","scale":{"domain":[-271,272],"nice":false,"zero":false}},"x2":{"field":"cx"},"y2":{"field":"cy"}}},
    {"data":{"name":"pcaB"},"mark":{"type":"point","shape":"circle","filled":false,"color":"#555","size":50,"strokeWidth":1.1},
     "encoding":{"x":{"field":"x","type":"quantitative","scale":{"domain":[-273,272],"nice":false,"zero":false}},"y":{"field":"y","type":"quantitative","scale":{"domain":[-271,272],"nice":false,"zero":false}}}},
    {"data":{"name":"cenB"},"mark":{"type":"square","color":"#000","size":55,"opacity":1},
     "encoding":{"x":{"field":"x","type":"quantitative","scale":{"domain":[-273,272],"nice":false,"zero":false}},"y":{"field":"y","type":"quantitative","scale":{"domain":[-271,272],"nice":false,"zero":false}}}},
    {"data":{"name":"labB"},"mark":{"type":"text","color":"#e8262b","fontSize":16,"align":"center","baseline":"middle"},
     "encoding":{"x":{"field":"x","type":"quantitative","scale":{"domain":[-273,272],"nice":false,"zero":false}},"y":{"field":"y","type":"quantitative","scale":{"domain":[-271,272],"nice":false,"zero":false}},"text":{"field":"label"}}},
    {"data":{"values":[{}]},"mark":{"type":"text","text":"Sample Set 2","fontSize":27.5,"align":"center","baseline":"alphabetic","color":"#000"},
     "encoding":{"x":{"datum":-2.2,"type":"quantitative","scale":{"domain":[-273,272],"nice":false,"zero":false}},"y":{"datum":227,"type":"quantitative","scale":{"domain":[-271,272],"nice":false,"zero":false}}}},
    {"data":{"values":[{}]},"mark":{"type":"text","text":"B","fontSize":29,"align":"left","baseline":"alphabetic","color":"#000"},
     "encoding":{"x":{"datum":-448.7,"type":"quantitative","scale":{"domain":[-273,272],"nice":false,"zero":false}},"y":{"datum":-266.6,"type":"quantitative","scale":{"domain":[-271,272],"nice":false,"zero":false}}}}
   ]
  }
 ]},
 {"width":1,"height":20,"data":{"values":[{}]},"mark":{"type":"point","size":0,"opacity":0,"strokeWidth":0},"encoding":{}},
 {"spacing":0,"bounds":"flush","hconcat":[
  {"width":96,"height":1,"data":{"values":[{}]},"mark":{"type":"point","size":0,"opacity":0,"strokeWidth":0},"encoding":{}},
  {"width":408,"height":232,"view":{"stroke":"#6b6b6b","strokeWidth":1.5},
   "layer":[
    {"data":{"name":"volC"},"mark":{"type":"point","shape":"circle","filled":true,"opacity":1,"size":55},
     "encoding":{
      "x":{"field":"x","type":"quantitative","scale":{"domain":[-53.5,53.5],"nice":false,"zero":false},"axis":{"values":[-40,-20,0,20,40],"title":"Fold change","labelFontSize":19,"labelPadding":24.7,"labelBaseline":"alphabetic","titleFontSize":19,"titleY":75.7,"titleBaseline":"alphabetic"}},
      "y":{"field":"y","type":"quantitative","scale":{"domain":[-0.3,8.9],"nice":false,"zero":false},"axis":{"values":[0,2,4,6,8],"title":"-log(p-value): Significance","labelFontSize":18,"labelAngle":-90,"labelAlign":"center","labelBaseline":"alphabetic","labelPadding":12.3,"titleFontSize":19.8,"titleAngle":-90,"titleX":-66,"titleY":116,"titleBaseline":"alphabetic","titleAlign":"center"}},
      "color":{"field":"g","type":"nominal","scale":{"domain":["n","d","u"],"range":["#b8b8b8","#517fe8","#e3651d"]},"legend":null}}},
    {"data":{"name":"genC"},"mark":{"type":"text","color":"#333","fontSize":11.7,"align":"center","baseline":"middle"},
     "encoding":{"x":{"field":"x","type":"quantitative","scale":{"domain":[-53.5,53.5],"nice":false,"zero":false}},"y":{"field":"y","type":"quantitative","scale":{"domain":[-0.3,8.9],"nice":false,"zero":false}},"text":{"field":"label"}}},
    {"data":{"values":[{}]},"mark":{"type":"text","text":"Sample Set 1","fontSize":27.5,"align":"center","baseline":"alphabetic","color":"#000"},
     "encoding":{"x":{"datum":-1.3,"type":"quantitative","scale":{"domain":[-53.5,53.5],"nice":false,"zero":false}},"y":{"datum":8.01,"type":"quantitative","scale":{"domain":[-0.3,8.9],"nice":false,"zero":false}}}},
    {"data":{"values":[{}]},"mark":{"type":"text","text":"C","fontSize":29,"align":"left","baseline":"alphabetic","color":"#000"},
     "encoding":{"x":{"datum":-94,"type":"quantitative","scale":{"domain":[-53.5,53.5],"nice":false,"zero":false}},"y":{"datum":-0.04,"type":"quantitative","scale":{"domain":[-0.3,8.9],"nice":false,"zero":false}}}},
    {"data":{"values":[{}]},"mark":{"type":"point","shape":"circle","filled":true,"opacity":1,"size":30,"color":"#e3651d"},
     "encoding":{"x":{"datum":-55.08,"type":"quantitative","scale":{"domain":[-53.5,53.5],"nice":false,"zero":false}},"y":{"datum":-3.985,"type":"quantitative","scale":{"domain":[-0.3,8.9],"nice":false,"zero":false}}}},
    {"data":{"values":[{}]},"mark":{"type":"point","shape":"circle","filled":true,"opacity":1,"size":30,"color":"#517fe8"},
     "encoding":{"x":{"datum":-55.08,"type":"quantitative","scale":{"domain":[-53.5,53.5],"nice":false,"zero":false}},"y":{"datum":-4.78,"type":"quantitative","scale":{"domain":[-0.3,8.9],"nice":false,"zero":false}}}},
    {"data":{"values":[{}]},"mark":{"type":"text","text":"Up-regulated: 781","fontSize":16,"align":"left","baseline":"middle","color":"#222"},
     "encoding":{"x":{"datum":-51.15,"type":"quantitative","scale":{"domain":[-53.5,53.5],"nice":false,"zero":false}},"y":{"datum":-3.985,"type":"quantitative","scale":{"domain":[-0.3,8.9],"nice":false,"zero":false}}}},
    {"data":{"values":[{}]},"mark":{"type":"text","text":"Down-regulated: 368","fontSize":16,"align":"left","baseline":"middle","color":"#222"},
     "encoding":{"x":{"datum":-51.15,"type":"quantitative","scale":{"domain":[-53.5,53.5],"nice":false,"zero":false}},"y":{"datum":-4.78,"type":"quantitative","scale":{"domain":[-0.3,8.9],"nice":false,"zero":false}}}},
    {"data":{"values":[{}]},"mark":{"type":"text","text":"P-value: 0.05","fontSize":16,"align":"left","baseline":"middle","color":"#222"},
     "encoding":{"x":{"datum":-3.67,"type":"quantitative","scale":{"domain":[-53.5,53.5],"nice":false,"zero":false}},"y":{"datum":-3.985,"type":"quantitative","scale":{"domain":[-0.3,8.9],"nice":false,"zero":false}}}},
    {"data":{"values":[{}]},"mark":{"type":"text","text":"FDR adjustment: No","fontSize":16,"align":"left","baseline":"middle","color":"#222"},
     "encoding":{"x":{"datum":-3.67,"type":"quantitative","scale":{"domain":[-53.5,53.5],"nice":false,"zero":false}},"y":{"datum":-4.78,"type":"quantitative","scale":{"domain":[-0.3,8.9],"nice":false,"zero":false}}}}
   ]
  }
 ]},
 {"width":1,"height":11.5,"data":{"values":[{}]},"mark":{"type":"point","size":0,"opacity":0,"strokeWidth":0},"encoding":{}},
 {"spacing":0,"bounds":"flush","hconcat":[
  {"width":105,"height":1,"data":{"values":[{}]},"mark":{"type":"point","size":0,"opacity":0,"strokeWidth":0},"encoding":{}},
  {"width":401,"height":230,"view":{"stroke":"#6b6b6b","strokeWidth":1.5},
   "layer":[
    {"data":{"name":"volD"},"mark":{"type":"point","shape":"circle","filled":true,"opacity":1,"size":55},
     "encoding":{
      "x":{"field":"x","type":"quantitative","scale":{"domain":[-312,312],"nice":false,"zero":false},"axis":{"values":[-300,-200,-100,0,100,200,300],"title":"Fold change","labelFontSize":19,"labelPadding":25.7,"labelBaseline":"alphabetic","titleFontSize":19,"titleY":75.5,"titleBaseline":"alphabetic"}},
      "y":{"field":"y","type":"quantitative","scale":{"domain":[-0.56,15],"nice":false,"zero":false},"axis":{"values":[0,5,10,15],"title":"-log(p-value): Significance","labelFontSize":18,"labelAngle":-90,"labelAlign":"center","labelBaseline":"alphabetic","labelPadding":15.3,"titleFontSize":19.8,"titleAngle":-90,"titleX":-67.5,"titleY":115,"titleBaseline":"alphabetic","titleAlign":"center"}},
      "color":{"field":"g","type":"nominal","scale":{"domain":["n","d","u"],"range":["#b8b8b8","#517fe8","#e3651d"]},"legend":null}}},
    {"data":{"name":"genD"},"mark":{"type":"text","color":"#333","fontSize":11.5,"align":"center","baseline":"middle"},
     "encoding":{"x":{"field":"x","type":"quantitative","scale":{"domain":[-312,312],"nice":false,"zero":false}},"y":{"field":"y","type":"quantitative","scale":{"domain":[-0.56,15],"nice":false,"zero":false}},"text":{"field":"label"}}},
    {"data":{"values":[{}]},"mark":{"type":"text","text":"Sample Set 2","fontSize":27.5,"align":"center","baseline":"alphabetic","color":"#000"},
     "encoding":{"x":{"datum":-6.2,"type":"quantitative","scale":{"domain":[-312,312],"nice":false,"zero":false}},"y":{"datum":13.65,"type":"quantitative","scale":{"domain":[-0.56,15],"nice":false,"zero":false}}}},
    {"data":{"values":[{}]},"mark":{"type":"text","text":"D","fontSize":28,"align":"left","baseline":"alphabetic","color":"#000"},
     "encoding":{"x":{"datum":-580,"type":"quantitative","scale":{"domain":[-312,312],"nice":false,"zero":false}},"y":{"datum":-0.49,"type":"quantitative","scale":{"domain":[-0.56,15],"nice":false,"zero":false}}}},
    {"data":{"values":[{}]},"mark":{"type":"point","shape":"circle","filled":true,"opacity":1,"size":30,"color":"#e3651d"},
     "encoding":{"x":{"datum":-325.5,"type":"quantitative","scale":{"domain":[-312,312],"nice":false,"zero":false}},"y":{"datum":-6.69,"type":"quantitative","scale":{"domain":[-0.56,15],"nice":false,"zero":false}}}},
    {"data":{"values":[{}]},"mark":{"type":"point","shape":"circle","filled":true,"opacity":1,"size":30,"color":"#517fe8"},
     "encoding":{"x":{"datum":-325.5,"type":"quantitative","scale":{"domain":[-312,312],"nice":false,"zero":false}},"y":{"datum":-8.04,"type":"quantitative","scale":{"domain":[-0.56,15],"nice":false,"zero":false}}}},
    {"data":{"values":[{}]},"mark":{"type":"text","text":"Up-regulated: 554","fontSize":16,"align":"left","baseline":"middle","color":"#222"},
     "encoding":{"x":{"datum":-299.5,"type":"quantitative","scale":{"domain":[-312,312],"nice":false,"zero":false}},"y":{"datum":-6.69,"type":"quantitative","scale":{"domain":[-0.56,15],"nice":false,"zero":false}}}},
    {"data":{"values":[{}]},"mark":{"type":"text","text":"Down-regulated: 605","fontSize":16,"align":"left","baseline":"middle","color":"#222"},
     "encoding":{"x":{"datum":-299.5,"type":"quantitative","scale":{"domain":[-312,312],"nice":false,"zero":false}},"y":{"datum":-8.04,"type":"quantitative","scale":{"domain":[-0.56,15],"nice":false,"zero":false}}}},
    {"data":{"values":[{}]},"mark":{"type":"text","text":"P-value: 0.05","fontSize":16,"align":"left","baseline":"middle","color":"#222"},
     "encoding":{"x":{"datum":-14,"type":"quantitative","scale":{"domain":[-312,312],"nice":false,"zero":false}},"y":{"datum":-6.69,"type":"quantitative","scale":{"domain":[-0.56,15],"nice":false,"zero":false}}}},
    {"data":{"values":[{}]},"mark":{"type":"text","text":"FDR adjustment: No","fontSize":16,"align":"left","baseline":"middle","color":"#222"},
     "encoding":{"x":{"datum":-14,"type":"quantitative","scale":{"domain":[-312,312],"nice":false,"zero":false}},"y":{"datum":-8.04,"type":"quantitative","scale":{"domain":[-0.56,15],"nice":false,"zero":false}}}}
   ]
  }
 ]}
]
}
